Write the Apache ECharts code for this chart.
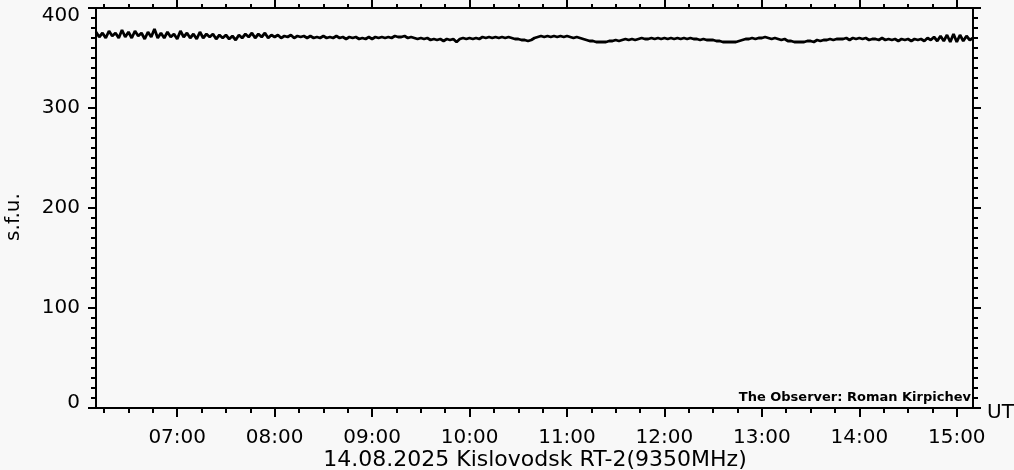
<!DOCTYPE html>
<html><head><meta charset="utf-8">
<script src="https://cdn.jsdelivr.net/npm/echarts@6/dist/echarts.min.js"></script>
<style>html,body{margin:0;padding:0;background:#f8f8f8}#c{width:1014px;height:470px}</style>
</head><body><div id="c"></div>
<script>
// Flux samples (s.f.u.), every 2 minutes starting 06:10 UT
const startTime = '06:10';
const endTime = '15:10';
const stepMinutes = 2;
const flux = [
 376,371,375,370,377, 372,375,370,378,371, 376,370,377,372,375, 369,376,371,379,370,
 375,370,376,371,374, 369,377,371,375,370, 374,369,376,370,374, 371,374,369,373,370,
 373,369,372,368,373, 370,374,371,375,370, 374,371,375,370,373, 371,373,370,372,371,
 373,370,372,371,372, 370,372,370,371,370, 372,370,371,370,372, 370,371,369,371,370,
 371,369,370,369,371, 369,371,370,371,370, 371,370,372,371,371, 372,370,371,370,369,
 370,369,370,368,369, 368,369,367,369,368, 369,366,369,370,369, 370,369,370,369,371,
 370,371,370,371,370, 371,370,371,370,369, 369,368,368,367,368, 370,371,372,371,372,
 371,372,371,372,371, 372,371,370,371,370, 369,368,367,367,366, 366,366,366,367,367,
 368,367,368,369,368, 369,368,369,370,369, 369,370,369,370,369, 370,369,370,369,370,
 369,370,369,370,369, 369,368,369,368,368, 368,367,367,366,366, 366,366,366,367,368,
 369,369,370,369,370, 370,371,370,369,370, 369,368,369,367,367, 366,366,366,366,367,
 367,366,368,367,368, 368,369,368,369,369, 369,370,368,370,369, 370,369,370,368,369,
 369,368,370,368,369, 368,369,367,369,368, 369,367,369,368,369, 367,370,368,371,367,
 372,367,373,366,374, 366,373,367,372,368, 370
];
const hourLabels = ['07:00','08:00','09:00','10:00','11:00','12:00','13:00','14:00','15:00'];
const yTicks = [0,100,200,300,400];
const yAxisTitle = 's.f.u.';
const chartTitle = '14.08.2025 Kislovodsk RT-2(9350MHz)';
const observer = 'The Observer: Roman Kirpichev';
const xUnit = 'UT';

function toMin(s){const p=s.split(':');return (+p[0])*60+(+p[1]);}
function toHHMM(v){const h=Math.floor(v/60),m=Math.round(v%60);return (h<10?'0':'')+h+':'+(m<10?'0':'')+m;}
const t0 = toMin(startTime), t1 = toMin(endTime);
const seriesData = flux.map((v,i)=>[t0+i*stepMinutes, v]);
const majorX = hourLabels.map(toMin);
const minorX = [];
for (let m = Math.ceil(t0/15)*15; m <= t1; m += 15) minorX.push(m);

const FONT = 'DejaVu Sans';
const lineSt = {color:'#000', width:2};
function xAx(pos, vals, len, labels){
  return {
    type:'value', position:pos, min:t0, max:t1,
    axisLine:{show:true, onZero:false, lineStyle:lineSt},
    axisTick:{show:true, inside:false, length:len, customValues:vals, lineStyle:lineSt},
    axisLabel: labels ? {show:true, customValues:vals, formatter:toHHMM, color:'#000', fontFamily:FONT, fontSize:20, margin:20} : {show:false},
    splitLine:{show:false}
  };
}
const yMin = yTicks[0], yMax = yTicks[yTicks.length-1];
function yAx(pos, labels){
  return {
    type:'value', position:pos, min:yMin, max:yMax, interval:100,
    axisLine:{show:true, onZero:false, lineStyle:lineSt},
    axisTick:{show:true, inside:false, length:8, lineStyle:lineSt},
    minorTick:{show:true, splitNumber:10, length:5, lineStyle:lineSt},
    axisLabel: labels ? {show:true, color:'#000', fontFamily:FONT, fontSize:20, margin:16,
      formatter: v => v===yMin ? '{lo|'+v+'}' : (v===yMax ? '{hi|'+v+'}' : String(v)),
      rich:{
        lo:{fontFamily:FONT, fontSize:20, color:'#000', padding:[0,0,10,0]},
        hi:{fontFamily:FONT, fontSize:20, color:'#000', padding:[15,0,0,0]}
      }} : {show:false},
    splitLine:{show:false}, minorSplitLine:{show:false}
  };
}
const chart = echarts.init(document.getElementById('c'), null, {renderer:'canvas'});
chart.setOption({
  backgroundColor:'#f8f8f8',
  animation:false,
  grid:{left:96, top:8, width:877, height:400, containLabel:false},
  xAxis:[
    xAx('bottom', majorX, 9, true),
    xAx('bottom', minorX, 5, false),
    xAx('top', majorX, 8, false),
    xAx('top', minorX, 4, false)
  ],
  yAxis:[ yAx('left', true), yAx('right', false) ],
  series:[{
    type:'line', data:seriesData, xAxisIndex:0, yAxisIndex:0,
    showSymbol:false, symbol:'none',
    lineStyle:{color:'#000', width:2.8}, silent:true
  }],
  graphic:[
    {type:'text', x:14, y:217, rotation:Math.PI/2, style:{text:yAxisTitle, fill:'#000', font:'20px "'+FONT+'"', align:'center', verticalAlign:'middle'}},
    {type:'text', x:535, y:460, style:{text:chartTitle, fill:'#000', font:'22px "'+FONT+'"', align:'center', verticalAlign:'middle'}},
    {type:'text', x:987, y:413, style:{text:xUnit, fill:'#000', font:'20px "'+FONT+'"', align:'left', verticalAlign:'middle'}},
    {type:'text', x:971, y:398, style:{text:observer, fill:'#000', font:'bold 13px "'+FONT+'"', align:'right', verticalAlign:'middle'}}
  ]
});
</script></body></html>
